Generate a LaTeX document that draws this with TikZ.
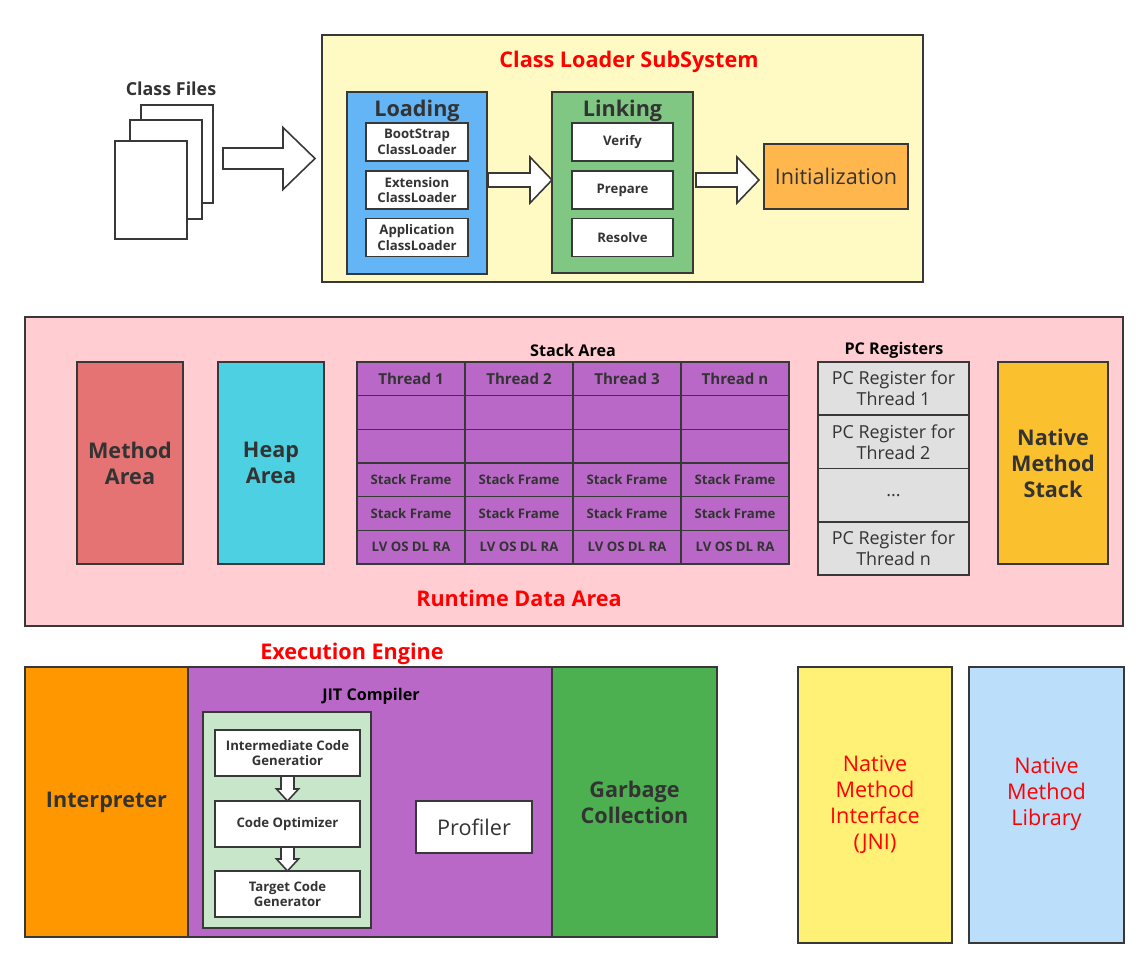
\documentclass[tikz,border=0pt]{standalone}
\usepackage{fontspec}
\setmainfont{Open Sans}
\usetikzlibrary{positioning,calc}

\definecolor{edgeGray}{HTML}{383838}
\definecolor{textGray}{HTML}{333333}
\definecolor{loaderYellow}{HTML}{FFF9C4}
\definecolor{loadingBlue}{HTML}{64B5F6}
\definecolor{linkingGreen}{HTML}{81C784}
\definecolor{initOrange}{HTML}{FFB74D}
\definecolor{runtimePink}{HTML}{FFCDD2}
\definecolor{methodRed}{HTML}{E57373}
\definecolor{heapCyan}{HTML}{4DD0E1}
\definecolor{stackPurple}{HTML}{BA68C8}
\definecolor{pcGray}{HTML}{E0E0E0}
\definecolor{nativeGold}{HTML}{FBC02D}
\definecolor{interpOrange}{HTML}{FF9800}
\definecolor{jitMint}{HTML}{C8E6C9}
\definecolor{gcGreen}{HTML}{4CAF50}
\definecolor{jniYellow}{HTML}{FFF176}
\definecolor{libBlue}{HTML}{BBDEFB}

\begin{document}
\begin{tikzpicture}[
    x=0.02cm,
    y=-0.02cm,
    box/.style 2 args={%
      draw=edgeGray,
      line width=0.9pt,
      rectangle,
      inner sep=0pt,
      outer sep=0pt,
      align=center,
      minimum width=#1*0.02cm,
      minimum height=#2*0.02cm,
    },
    bigBold/.style={font=\fontsize{12.3}{14.8}\selectfont\bfseries, text=textGray},
    bigThin/.style={font=\fontsize{12.3}{14.8}\selectfont, text=textGray},
    redBold/.style={font=\fontsize{12.3}{14.8}\selectfont\bfseries, text=red},
    redThin/.style={font=\fontsize{12.3}{14.8}\selectfont, text=red, align=center},
    head/.style={font=\fontsize{9.2}{11}\selectfont\bfseries, text=black},
    filesText/.style={font=\fontsize{10.2}{12}\selectfont\bfseries, text=textGray},
    threadText/.style={font=\fontsize{8.6}{10}\selectfont\bfseries, text=textGray},
    cellText/.style={font=\fontsize{7.5}{9}\selectfont\bfseries, text=textGray},
    regText/.style={font=\fontsize{10.2}{12}\selectfont, text=textGray},
    blockArrow/.style={draw=edgeGray, line width=0.9pt, fill=white},
  ]

    \useasboundingbox (0,0) rectangle (1148,969);

    % class files
    \node [filesText] (files) at (171,89) {Class Files};
    \node [box={72}{98}, fill=white] (pageC) at (177,154) {};
    \node [box={72}{99}, fill=white] (pageB) at (166,169.5) {};
    \node [box={72}{98}, fill=white] (pageA) at (151,190) {};

    % class loader subsystem
    \node [box={601}{247}, fill=loaderYellow] (classLoader) at (622.5,158.5) {};
    \node [redBold] (loaderTitle) at (629,62) {Class Loader SubSystem};
    \draw [blockArrow] ($(classLoader.west)+(-7,0)$) -- ++(-32,-31) -- ++(0,20.5) -- ++(-60,0)
      -- ++(0,21) -- ++(60,0) -- ++(0,20.5) -- cycle;

    \node [box={140}{182}, fill=loadingBlue] (loading) at (417,183) {};
    \node [bigBold] (loadingTitle) at (417,111) {Loading};
    \node [box={102}{38}, fill=white, cellText] (boot) at (417,142) {BootStrap\\ClassLoader};
    \node [box={102}{38}, fill=white, cellText] (ext) at (417,190) {Extension\\ClassLoader};
    \node [box={102}{38}, fill=white, cellText] (app) at (417,237.5) {Application\\ClassLoader};

    \node [box={141}{181}, fill=linkingGreen] (linking) at (622.5,182.5) {};
    \node [bigBold] (linkingTitle) at (622.5,111) {Linking};
    \node [box={101}{38}, fill=white, cellText] (verify) at (622.5,142) {Verify};
    \node [box={101}{38}, fill=white, cellText] (prepare) at (622.5,190) {Prepare};
    \node [box={101}{38}, fill=white, cellText] (resolve) at (622.5,237.5) {Resolve};

    \node [box={144}{65}, fill=initOrange, bigThin] (init) at (836,176.5) {Initialization};

    \draw [blockArrow] ($(linking.west)+(0,-2.5)$) -- ++(-22,-23) -- ++(0,16) -- ++(-42,0)
      -- ++(0,14) -- ++(42,0) -- ++(0,16) -- cycle;
    \draw [blockArrow] ($(init.west)+(-5,3.5)$) -- ++(-22,-23) -- ++(0,16) -- ++(-41,0)
      -- ++(0,14) -- ++(41,0) -- ++(0,16) -- cycle;

    % runtime data area
    \node [box={1098}{309}, fill=runtimePink] (runtime) at (574,471.5) {};
    \node [redBold] (runtimeTitle) at (519,598) {Runtime Data Area};
    \node [box={106}{202}, fill=methodRed, bigBold] (methodArea) at (130,463) {Method\\Area};
    \node [box={106}{202}, fill=heapCyan, bigBold] (heapArea) at (271,463) {Heap\\Area};

    \node [head] (stackTitle) at (573,350) {Stack Area};
    \foreach \c/\t in {1/1,2/2,3/3,4/n} {
      \node [box={108}{33.67}, fill=stackPurple, threadText] (T\c) at ({411+108*(\c-1)},378.8) {Thread \t};
      \node [box={108}{33.67}, fill=stackPurple] (A\c) [below=0pt of T\c] {};
      \node [box={108}{33.67}, fill=stackPurple] (B\c) [below=0pt of A\c] {};
      \node [box={108}{33.67}, fill=stackPurple, cellText] (F\c) [below=0pt of B\c] {Stack Frame};
      \node [box={108}{33.67}, fill=stackPurple, cellText] (G\c) [below=0pt of F\c] {Stack Frame};
      \node [box={108}{33.67}, fill=stackPurple, cellText] (L\c) [below=0pt of G\c] {LV OS DL RA};
    }

    \node [head] (pcTitle) at (894,350) {PC Registers};
    \node [box={151}{53.25}, fill=pcGray, regText] (P1) at (893.5,388.6) {PC Register for\\Thread 1};
    \node [box={151}{53.25}, fill=pcGray, regText] (P2) [below=0pt of P1] {PC Register for\\Thread 2};
    \node [box={151}{53.25}, fill=pcGray, regText] (P3) [below=0pt of P2] {...};
    \node [box={151}{53.25}, fill=pcGray, regText] (P4) [below=0pt of P3] {PC Register for\\Thread n};

    \node [box={110}{202}, fill=nativeGold, bigBold] (nativeStack) at (1053,463) {Native\\Method\\Stack};

    % execution engine
    \node [redBold] (engineTitle) at (352,654) {Execution Engine};
    \node [box={163}{270}, fill=interpOrange, bigBold] (interp) at (106.5,802) {Interpreter};
    \node [box={364}{270}, fill=stackPurple] (jit) at (370,802) {};
    \node [box={165}{270}, fill=gcGreen, bigBold] (gc) at (634.5,802) {Garbage\\Collection};
    \node [head] (jitTitle) at (371,696) {JIT Compiler};
    \node [box={168}{216}, fill=jitMint] (jitInner) at (287,820) {};
    \node [box={145}{46}, fill=white, cellText] (icg) at (287.5,753) {Intermediate Code\\Generatior};
    \node [box={145}{46}, fill=white, cellText] (opt) at (287.5,824) {Code Optimizer};
    \node [box={145}{46}, fill=white, cellText] (tcg) at (287.5,894) {Target Code\\Generator};
    \draw [blockArrow] (opt.north) -- ++(-11,-12) -- ++(4.5,0) -- ++(0,-13) -- ++(13,0)
      -- ++(0,13) -- ++(4.5,0) -- cycle;
    \draw [blockArrow] (tcg.north) -- ++(-11,-12) -- ++(4.5,0) -- ++(0,-12) -- ++(13,0)
      -- ++(0,12) -- ++(4.5,0) -- cycle;
    \node [box={116}{52}, fill=white, bigThin] (profiler) at (474,827) {Profiler};

    % native interface and library
    \node [box={154}{276}, fill=jniYellow, redThin] (jni) at (875,805) {Native\\Method\\Interface\\(JNI)};
    \node [box={155}{276}, fill=libBlue] (nativeLib) at (1046.5,805) {};
    \node [redThin] (nativeLibText) at (1046.5,794) {Native\\Method\\Library};

\end{tikzpicture}
\end{document}
